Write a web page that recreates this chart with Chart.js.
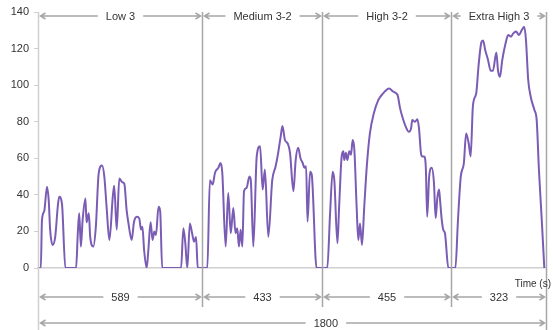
<!DOCTYPE html>
<html>
<head>
<meta charset="utf-8">
<script src="https://cdn.jsdelivr.net/npm/chart.js@4.4.1/dist/chart.umd.min.js"></script>
<style>
  html, body { margin: 0; padding: 0; background: #fff; }
  #wrap { width: 553px; height: 330px; }
</style>
</head>
<body>
<div id="wrap"><canvas id="chart"></canvas></div>
<script>
// speed trace (km/h) against time (s)
const times = [
  0, 10, 14, 22, 32, 38, 43, 52, 61, 70, 75, 85, 97, 135, 141, 146, 152, 158, 168, 172,
  180, 185, 196, 205, 215, 227, 235, 243, 253, 265, 270, 279, 288, 298, 306, 314, 320, 332, 340, 350,
  359, 365, 370, 376, 385, 391, 399, 406, 412, 418, 427, 433, 440, 507, 515, 522, 529, 538, 546, 553,
  560, 566, 600,
  609, 619, 627, 639, 647, 653, 665, 674, 683, 692, 700, 706, 712, 718, 724, 730, 739, 749, 754, 763,
  775, 787, 796, 804, 816, 830, 842, 851, 860, 866, 875, 885, 893, 905, 913, 922, 930, 938, 944, 950,
  955, 964, 970, 987, 1025,
  1035, 1044, 1050, 1061, 1067, 1076, 1082, 1085, 1091, 1096, 1103, 1109, 1115, 1121, 1129, 1135, 1141, 1148, 1156, 1165,
  1176, 1190, 1206, 1223, 1244, 1259, 1274, 1283, 1291, 1303, 1314, 1322, 1326, 1336, 1344, 1350, 1357, 1362, 1368, 1374,
  1379, 1386, 1395, 1403, 1409, 1415, 1421, 1425, 1430, 1436, 1442, 1454, 1479,
  1488, 1498, 1509, 1517, 1526, 1533, 1541, 1553, 1561, 1571, 1577, 1585, 1594, 1604, 1612, 1624, 1630, 1637, 1645, 1657,
  1666, 1676, 1684, 1694, 1704, 1714, 1723, 1729, 1737, 1747, 1759, 1767, 1775, 1785, 1794
];
const speeds = [
  0, 0, 26, 31, 44.5, 37, 21, 12.6, 17, 33.5, 39, 35, 0, 0, 19, 30, 11.7, 26, 38, 25,
  30, 17, 11.7, 22.6, 51.8, 56, 50, 33.5, 15.3, 39, 45, 21, 49, 47, 46, 31.7, 25, 15.3, 25, 28,
  27, 21, 22.6, 9.8, 0, 9.8, 25, 15.3, 20, 18, 33.5, 31, 0, 0, 21.7, 13.5, 0, 24.4, 19, 14.4,
  17, 0, 0,
  48, 45.6, 52, 54.8, 57.4, 52, 11.7, 41, 19, 32.8, 19, 21.7, 11.7, 20.9, 11.7, 42, 43.8, 50, 48, 11.7,
  61, 66.6, 42.9, 53.8, 17, 48, 55.6, 63, 72, 77.6, 70, 68, 63, 42, 59, 65.7, 60, 57.4, 54.8, 55.6,
  25.4, 52.7, 51, 0, 0,
  30, 52.7, 48, 13.5, 33.5, 61, 63.8, 59, 63, 59, 63.8, 62, 70, 64.5, 33.5, 15.3, 24.4, 12.6, 33.5, 55.6,
  73.6, 84.6, 91.9, 95.5, 98.2, 96.4, 94.6, 87.3, 82.7, 77.3, 74.5, 76.4, 80.9, 80, 81.3, 76.4, 62.7, 61, 61, 55.6,
  28, 50, 54.8, 46.5, 27.3, 38.3, 42.9, 36.4, 27.3, 20.9, 19, 0, 0,
  26, 50, 57.4, 73.6, 68.2, 61, 88.6, 95.8, 110.6, 123.4, 124.4, 118.9, 114.2, 107.9, 107.9, 117.9, 108, 104.6, 113.7, 123,
  127.4, 126.5, 128.3, 129.3, 127.4, 130.1, 131.9, 124.7, 102.8, 92.8, 86.4, 80.9, 53.6, 26.2, 0
];

// phases: where the divider lines sit on the picture, names and durations
const phaseEdges = [0, 581, 1007, 1463, 1800];
const phaseNames = ['Low 3', 'Medium 3-2', 'High 3-2', 'Extra High 3'];
const phaseDurations = [589, 433, 455, 323];
const totalDuration = 1800;
const yTicks = [0, 20, 40, 60, 80, 100, 120, 140];

const FONT = '"Liberation Sans", Arial, sans-serif';

function arrow(ctx, x1, x2, y, label, font) {
  ctx.font = font;
  const mid = (x1 + x2) / 2;
  const half = ctx.measureText(label).width / 2 + 8;
  ctx.strokeStyle = '#a6a6a6';
  ctx.lineWidth = 1.5;
  ctx.beginPath();
  ctx.moveTo(x1, y); ctx.lineTo(mid - half, y);
  ctx.moveTo(mid + half, y); ctx.lineTo(x2, y);
  // heads
  ctx.moveTo(x1 + 5, y - 3); ctx.lineTo(x1, y); ctx.lineTo(x1 + 5, y + 3);
  ctx.moveTo(x2 - 5, y - 3); ctx.lineTo(x2, y); ctx.lineTo(x2 - 5, y + 3);
  ctx.stroke();
  ctx.fillStyle = '#333';
  ctx.textAlign = 'center';
  ctx.textBaseline = 'middle';
  ctx.fillText(label, mid, y + 0.5);
}

const phasePlugin = {
  id: 'phases',
  afterDraw(chart) {
    const { ctx, chartArea: a, scales: { x } } = chart;
    const px = phaseEdges.map(v => Math.round(x.getPixelForValue(v)) + 0.5);
    ctx.save();
    // y axis line, running down past the plot
    ctx.strokeStyle = '#d0d0d0';
    ctx.lineWidth = 1.5;
    ctx.beginPath();
    ctx.moveTo(px[0], a.top); ctx.lineTo(px[0], 330);
    ctx.stroke();
    // dividers
    ctx.strokeStyle = '#a6a6a6';
    ctx.beginPath();
    for (let i = 1; i < px.length; i++) {
      ctx.moveTo(px[i], a.top);
      ctx.lineTo(px[i], i === px.length - 1 ? 330 : 307);
    }
    ctx.stroke();

    for (let i = 0; i < phaseNames.length; i++) {
      arrow(ctx, px[i] + 2, px[i + 1] - 2, a.top + 4, phaseNames[i], '11px ' + FONT);
      arrow(ctx, px[i] + 2, px[i + 1] - 2, 297, String(phaseDurations[i]), '11px ' + FONT);
    }
    // total row: label sits under the second divider
    ctx.font = '11px ' + FONT;
    const lx = x.getPixelForValue(1020);
    const half = ctx.measureText(String(totalDuration)).width / 2 + 8;
    ctx.strokeStyle = '#a6a6a6';
    ctx.lineWidth = 1.5;
    ctx.beginPath();
    const y = 323, x1 = px[0] + 2, x2 = px[4] - 2;
    ctx.moveTo(x1, y); ctx.lineTo(lx - half, y);
    ctx.moveTo(lx + half, y); ctx.lineTo(x2, y);
    ctx.moveTo(x1 + 5, y - 3); ctx.lineTo(x1, y); ctx.lineTo(x1 + 5, y + 3);
    ctx.moveTo(x2 - 5, y - 3); ctx.lineTo(x2, y); ctx.lineTo(x2 - 5, y + 3);
    ctx.stroke();
    ctx.fillStyle = '#333';
    ctx.textAlign = 'center';
    ctx.textBaseline = 'middle';
    ctx.fillText(String(totalDuration), lx, y + 0.5);

    ctx.font = '10px ' + FONT;
    ctx.textAlign = 'right';
    ctx.fillText('Time (s)', 551, 284);
    ctx.restore();
  }
};

new Chart(document.getElementById('chart'), {
  type: 'line',
  data: {
    datasets: [{
      data: times.map((t, i) => ({ x: t, y: speeds[i] })),
      borderColor: '#7b5cb5',
      borderWidth: 2,
      pointRadius: 0,
      cubicInterpolationMode: 'monotone',
      fill: false
    }]
  },
  options: {
    responsive: true,
    maintainAspectRatio: false,
    animation: false,
    layout: { padding: { top: 12, right: 7, bottom: 62, left: 0 } },
    plugins: { legend: { display: false }, tooltip: { enabled: false } },
    scales: {
      x: {
        type: 'linear',
        min: 0,
        max: totalDuration,
        ticks: { display: false },
        grid: { display: false },
        border: { display: true, color: '#d0d0d0', width: 1.5 },
        afterFit: s => { s.height = 0; }
      },
      y: {
        min: 0,
        max: 140,
        afterBuildTicks: s => { s.ticks = yTicks.map(v => ({ value: v })); },
        ticks: { color: '#333', font: { size: 11, family: FONT }, padding: 5 },
        grid: { drawOnChartArea: false, drawTicks: true, tickLength: 4, color: '#d0d0d0' },
        border: { display: false },
        afterFit: s => { s.width = 38; }
      }
    }
  },
  plugins: [phasePlugin]
});
</script>
</body>
</html>
